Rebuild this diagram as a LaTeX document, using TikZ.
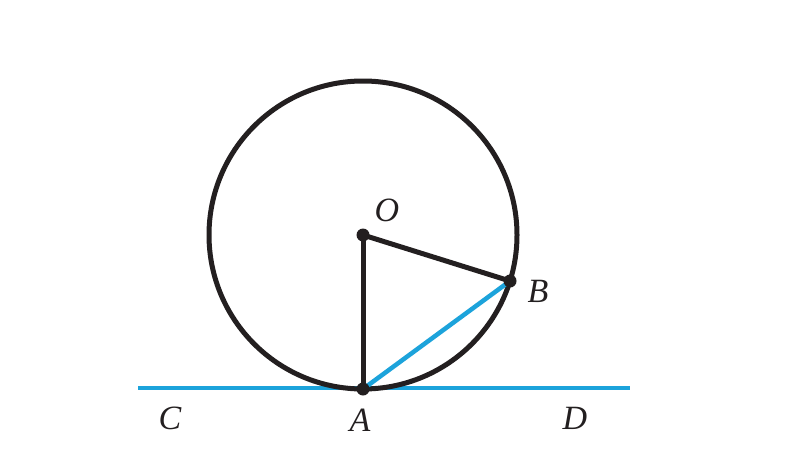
\documentclass[tikz,border=0pt]{standalone}
\usepackage{fontspec}
\setmainfont{Liberation Serif}
\definecolor{lineblue}{HTML}{1CA3DB}
\definecolor{ink}{HTML}{231F20}
\begin{document}
\begin{tikzpicture}[x=1pt,y=-1pt,
  blk/.style={draw=ink,line width=5pt},
  blu/.style={draw=lineblue,line width=4.5pt},
  dot/.style={circle,fill=ink,inner sep=0pt,minimum size=13pt},
  lbl/.style={font=\fontsize{34}{38}\selectfont\itshape,text=ink,inner sep=0pt}]
\useasboundingbox (0,0) rectangle (810,460);
\fill[white] (0,0) rectangle (810,460);
\coordinate (O) at (363,235);
\coordinate (A) at (363,389);
\coordinate (B) at (510,281);
\coordinate (C) at (138,388);
\coordinate (D) at (630,388);
\draw[blu] (C) -- (D);
\draw[blk] (O) circle (154);
\draw[blk] (O) -- (A);
\draw[blk] (O) -- (B);
\draw[blu] (A) -- (B);
\node[dot] (o) at (O) {};
\node[dot] (a) at (A) {};
\node[dot] (b) at (B) {};
\node[lbl] (lo) at (387,210) {O};
\node[lbl] (lb) at (538,291) {B};
\node[lbl] (la) at (360,420) {A};
\node[lbl] (lc) at (170,418) {C};
\node[lbl] (ld) at (575,418) {D};
\end{tikzpicture}
\end{document}
